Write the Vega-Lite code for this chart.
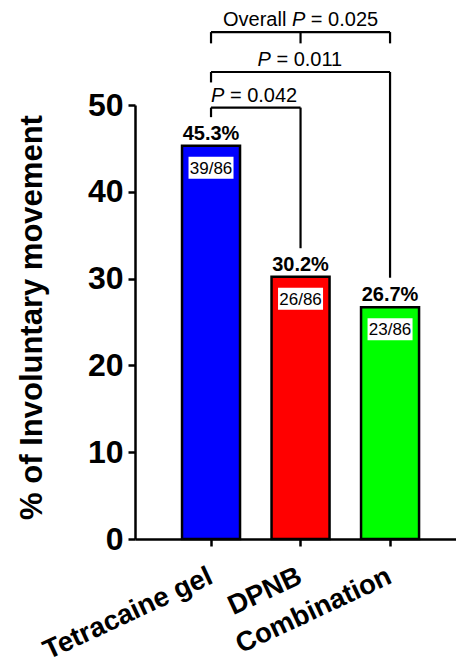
{
  "$schema": "https://vega.github.io/schema/vega-lite/v6.json",
  "width": 321,
  "height": 434,
  "autosize": {"type": "none"},
  "padding": {"left": 135, "top": 105, "right": 0, "bottom": 128},
  "background": "white",
  "config": {"view": {"stroke": null}, "font": "Liberation Sans"},
  "datasets": {
    "bars": [
      {"group": "Tetracaine gel", "pct": 45.3, "label": "45.3%", "frac": "39/86"},
      {"group": "DPNB", "pct": 30.2, "label": "30.2%", "frac": "26/86"},
      {"group": "Combination", "pct": 26.7, "label": "26.7%", "frac": "23/86"}
    ],
    "brackH": [
      {"group": "Tetracaine gel", "group2": "Combination", "pct": 58.4},
      {"group": "Tetracaine gel", "group2": "Combination", "pct": 53.8},
      {"group": "Tetracaine gel", "group2": "DPNB", "pct": 49.7}
    ],
    "brackV": [
      {"group": "Tetracaine gel", "pct": 58.4, "pct2": 57.1},
      {"group": "DPNB", "pct": 58.4, "pct2": 57.1},
      {"group": "Combination", "pct": 58.4, "pct2": 57.1},
      {"group": "Tetracaine gel", "pct": 53.8, "pct2": 52.6},
      {"group": "Combination", "pct": 53.8, "pct2": 30.1},
      {"group": "Tetracaine gel", "pct": 49.7, "pct2": 48.6},
      {"group": "DPNB", "pct": 49.7, "pct2": 33.5}
    ],
    "pvals": [
      {"id": "overall", "group": "DPNB", "pct": 59.1, "prefix": "Overall", "p": "P", "suffix": "= 0.025"},
      {"id": "p011", "group": "DPNB", "pct": 54.5, "p": "P", "suffix": "= 0.011"},
      {"id": "p042", "group": "Tetracaine gel", "pct": 50.4, "p": "P", "suffix": "= 0.042"}
    ]
  },
  "layer": [
    {
      "data": {"name": "bars"},
      "mark": {"type": "bar", "stroke": "black", "strokeWidth": 2.5},
      "encoding": {
        "x": {
          "field": "group", "type": "nominal", "sort": null,
          "scale": {"domain": ["Tetracaine gel", "DPNB", "Combination"], "paddingInner": 0.352, "paddingOuter": 0.469, "align": 0.56},
          "axis": {
            "title": null, "domainColor": "black", "domainWidth": 2.5, "tickColor": "black", "tickWidth": 2.5, "tickSize": 7,
            "labelAngle": -25, "labelAlign": "right", "labelBaseline": "top", "labelPadding": 16, "labelOffset": -6, "labelLimit": 0, "labelOverlap": false,
            "labelFont": "Liberation Sans", "labelFontSize": 27.5, "labelFontWeight": "bold", "labelColor": "black"
          }
        },
        "y": {
          "field": "pct", "type": "quantitative",
          "scale": {"domain": [0, 50], "nice": false},
          "axis": {
            "title": "% of Involuntary movement", "titleFont": "Liberation Sans", "titleFontSize": 31, "titleFontWeight": "bold", "titleColor": "black",
            "titleX": -94, "titleY": 212, "titleAngle": -90, "titleAlign": "center", "titleBaseline": "alphabetic",
            "values": [0, 10, 20, 30, 40, 50], "grid": false,
            "domainColor": "black", "domainWidth": 2.5, "tickColor": "black", "tickWidth": 2.5, "tickSize": 7,
            "labelFont": "Liberation Sans", "labelFontSize": 32, "labelFontWeight": "bold", "labelColor": "black", "labelPadding": 5
          }
        },
        "color": {
          "field": "group", "type": "nominal",
          "scale": {"domain": ["Tetracaine gel", "DPNB", "Combination"], "range": ["#0000FF", "#FF0000", "#00FF00"]},
          "legend": null
        }
      }
    },
    {
      "data": {"name": "bars"},
      "mark": {"type": "tick", "color": "white", "opacity": 1, "size": 45, "thickness": 22, "yOffset": 22, "orient": "horizontal"},
      "encoding": {
        "x": {"field": "group", "type": "nominal", "sort": null},
        "y": {"field": "pct", "type": "quantitative"}
      }
    },
    {
      "data": {"name": "bars"},
      "mark": {"type": "text", "font": "Liberation Sans", "fontSize": 17, "fontWeight": "normal", "color": "black", "baseline": "middle", "dy": 23},
      "encoding": {
        "x": {"field": "group", "type": "nominal", "sort": null},
        "y": {"field": "pct", "type": "quantitative"},
        "text": {"field": "frac"}
      }
    },
    {
      "data": {"name": "bars"},
      "mark": {"type": "text", "font": "Liberation Sans", "fontSize": 20, "fontWeight": "bold", "color": "black", "baseline": "alphabetic", "dy": -6},
      "encoding": {
        "x": {"field": "group", "type": "nominal", "sort": null},
        "y": {"field": "pct", "type": "quantitative"},
        "text": {"field": "label"}
      }
    },
    {
      "data": {"name": "brackH"},
      "mark": {"type": "rule", "color": "black", "strokeWidth": 2.2},
      "encoding": {
        "x": {"field": "group", "type": "nominal", "sort": null},
        "x2": {"field": "group2"},
        "y": {"field": "pct", "type": "quantitative"}
      }
    },
    {
      "data": {"name": "brackV"},
      "mark": {"type": "rule", "color": "black", "strokeWidth": 2.2},
      "encoding": {
        "x": {"field": "group", "type": "nominal", "sort": null},
        "y": {"field": "pct", "type": "quantitative"},
        "y2": {"field": "pct2"}
      }
    },
    {
      "data": {"name": "pvals"},
      "transform": [{"filter": "datum.id == 'overall'"}],
      "mark": {"type": "text", "fontSize": 20, "color": "black", "align": "right", "baseline": "alphabetic", "dx": -14.2},
      "encoding": {
        "x": {"field": "group", "type": "nominal", "sort": null},
        "y": {"field": "pct", "type": "quantitative"},
        "text": {"field": "prefix"}
      }
    },
    {
      "data": {"name": "pvals"},
      "transform": [{"filter": "datum.id == 'overall'"}],
      "mark": {"type": "text", "fontSize": 20, "fontStyle": "italic", "color": "black", "align": "left", "baseline": "alphabetic", "dx": -8.6},
      "encoding": {
        "x": {"field": "group", "type": "nominal", "sort": null},
        "y": {"field": "pct", "type": "quantitative"},
        "text": {"field": "p"}
      }
    },
    {
      "data": {"name": "pvals"},
      "transform": [{"filter": "datum.id == 'overall'"}],
      "mark": {"type": "text", "fontSize": 20, "color": "black", "align": "left", "baseline": "alphabetic", "dx": 10.3},
      "encoding": {
        "x": {"field": "group", "type": "nominal", "sort": null},
        "y": {"field": "pct", "type": "quantitative"},
        "text": {"field": "suffix"}
      }
    },
    {
      "data": {"name": "pvals"},
      "transform": [{"filter": "datum.id == 'p011'"}],
      "mark": {"type": "text", "fontSize": 20, "fontStyle": "italic", "color": "black", "align": "left", "baseline": "alphabetic", "dx": -43},
      "encoding": {
        "x": {"field": "group", "type": "nominal", "sort": null},
        "y": {"field": "pct", "type": "quantitative"},
        "text": {"field": "p"}
      }
    },
    {
      "data": {"name": "pvals"},
      "transform": [{"filter": "datum.id == 'p011'"}],
      "mark": {"type": "text", "fontSize": 20, "color": "black", "align": "left", "baseline": "alphabetic", "dx": -24.1},
      "encoding": {
        "x": {"field": "group", "type": "nominal", "sort": null},
        "y": {"field": "pct", "type": "quantitative"},
        "text": {"field": "suffix"}
      }
    },
    {
      "data": {"name": "pvals"},
      "transform": [{"filter": "datum.id == 'p042'"}],
      "mark": {"type": "text", "fontSize": 20, "fontStyle": "italic", "color": "black", "align": "left", "baseline": "alphabetic", "dx": 0},
      "encoding": {
        "x": {"field": "group", "type": "nominal", "sort": null},
        "y": {"field": "pct", "type": "quantitative"},
        "text": {"field": "p"}
      }
    },
    {
      "data": {"name": "pvals"},
      "transform": [{"filter": "datum.id == 'p042'"}],
      "mark": {"type": "text", "fontSize": 20, "color": "black", "align": "left", "baseline": "alphabetic", "dx": 18.9},
      "encoding": {
        "x": {"field": "group", "type": "nominal", "sort": null},
        "y": {"field": "pct", "type": "quantitative"},
        "text": {"field": "suffix"}
      }
    }
  ]
}
